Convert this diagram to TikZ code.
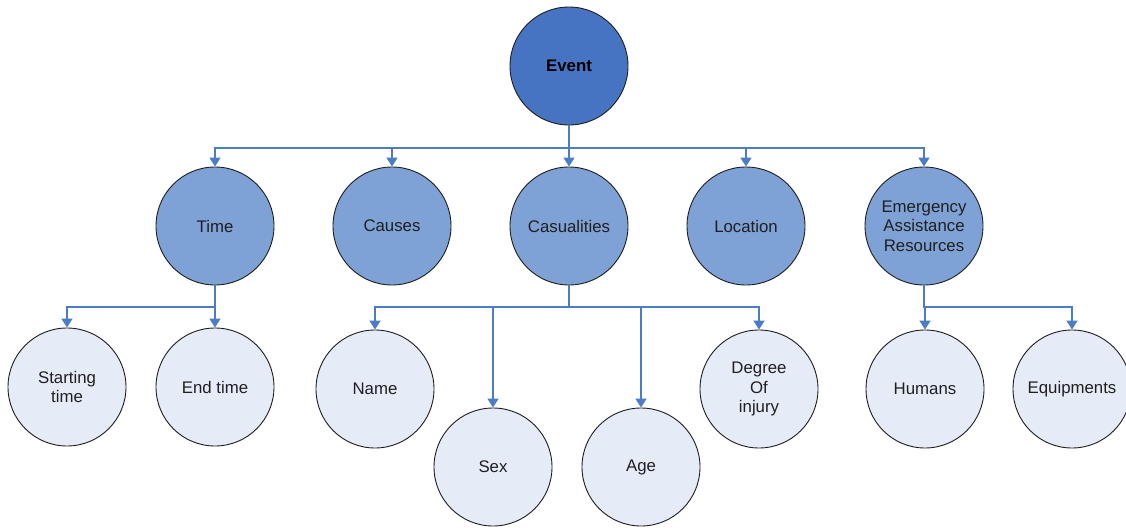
\documentclass[tikz,border=0pt]{standalone}
\usepackage{fontspec}
\setmainfont{Liberation Sans}
\usetikzlibrary{arrows.meta}
\definecolor{evblue}{HTML}{4674C2}
\definecolor{midblue}{HTML}{7EA2D5}
\definecolor{lightblue}{HTML}{E6ECF7}
\definecolor{arrblue}{HTML}{4A7DC6}
\definecolor{outline}{HTML}{1E1E1E}
\tikzset{
  circ/.style={circle, draw=outline, line width=0.9pt, minimum size=118pt, inner sep=0pt, align=center, font=\fontsize{16.8}{19.5}\selectfont, text=black!88},
  top/.style={circ, fill=evblue, font=\fontsize{16.8}{19.5}\selectfont\bfseries, text=black},
  mid/.style={circ, fill=midblue},
  leaf/.style={circ, fill=lightblue},
  conn/.style={draw=arrblue, line width=1.5pt, -{Triangle[width=11pt,length=9pt]}}
}
\begin{document}
\begin{tikzpicture}[x=1pt,y=-1pt]
\useasboundingbox (0,0) rectangle (1126,527);
\node[top] (event) at (569,66) {Event};
\node[mid] (time) at (215,226) {Time};
\node[mid] (causes) at (392,226) {Causes};
\node[mid] (cas) at (569,226) {Casualities};
\node[mid] (loc) at (746,226) {Location};
\node[mid] (emer) at (924,226) {Emergency\\Assistance\\Resources};
\node[leaf] (start) at (67,387) {Starting\\time};
\node[leaf] (end) at (215,387) {End time};
\node[leaf] (name) at (375,389) {Name};
\node[leaf] (sex) at (493,467) {Sex};
\node[leaf] (age) at (641,467) {Age};
\node[leaf] (deg) at (759,389) {Degree\\Of\\injury};
\node[leaf] (hum) at (925,389) {Humans};
\node[leaf] (equ) at (1072,389) {Equipments};
\coordinate (bar1) at (0,148);
\coordinate (bar2) at (0,307);
\foreach \c in {time,causes,cas,loc,emer}
  \draw[conn] (event.south) -- (event.south |- bar1) -| (\c.north);
\foreach \c in {start,end}
  \draw[conn] (time.south) -- (time.south |- bar2) -| (\c.north);
\foreach \c in {name,sex,age,deg}
  \draw[conn] (cas.south) -- (cas.south |- bar2) -| (\c.north);
\foreach \c in {hum,equ}
  \draw[conn] (emer.south) -- (emer.south |- bar2) -| (\c.north);
\end{tikzpicture}
\end{document}
